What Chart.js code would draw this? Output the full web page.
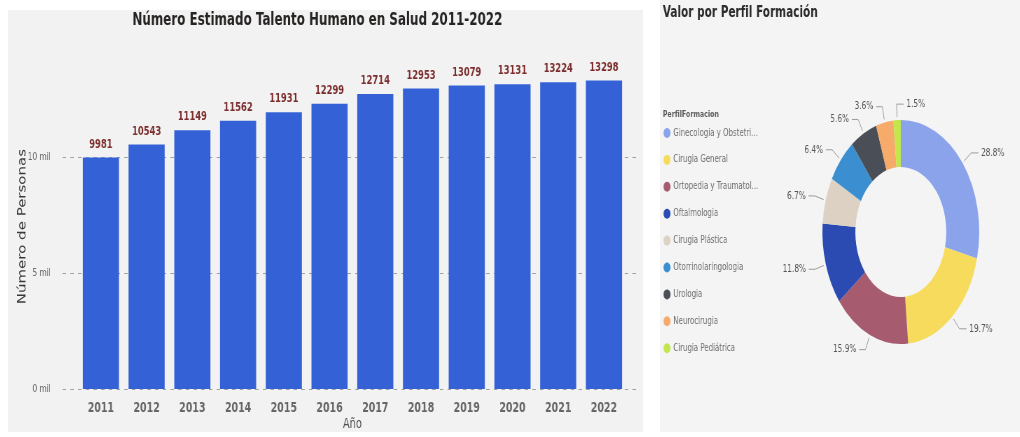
<!DOCTYPE html>
<html lang="es">
<head>
<meta charset="utf-8">
<title>Talento Humano en Salud 2011-2022</title>
<script src="https://cdn.jsdelivr.net/npm/chart.js@4.4.1/dist/chart.umd.min.js"></script>
<style>
  html, body { margin: 0; padding: 0; background: #fff; width: 1020px; height: 437px; overflow: hidden; }
  .panel { position: absolute; background: #f3f2f2; overflow: hidden; }
  #panelBar { left: 8px; top: 10px; width: 635px; height: 422px; }
  #panelDonut { left: 660px; top: 0; width: 360px; height: 432px; background: #f4f4f4; }
  /* both reports are drawn wide and narrowed horizontally */
  .panel canvas { position: absolute; left: 0; top: 0; transform-origin: 0 0; transform: scaleX(0.7); }
</style>
</head>
<body>
<div class="panel" id="panelBar"><canvas id="barChart" width="907" height="422"></canvas></div>
<div class="panel" id="panelDonut"><canvas id="donutChart" width="514" height="432"></canvas></div>
<script>
// Talento humano por año
const years = ['2011', '2012', '2013', '2014', '2015', '2016', '2017', '2018', '2019', '2020', '2021', '2022'];
const personas = [9981, 10543, 11149, 11562, 11931, 12299, 12714, 12953, 13079, 13131, 13224, 13298];
const yTickValues = [0, 5000, 10000];

// Distribución por perfil de formación (%)
const perfiles = ['Ginecologia y Obstetri...', 'Cirugia General', 'Ortopedia y Traumatol...', 'Oftalmologia',
  'Cirugia Plástica', 'Otorrinolaringologia', 'Urologia', 'Neurocirugia', 'Cirugia Pediátrica'];
const porcentajes = [28.8, 19.7, 15.9, 11.8, 6.7, 6.4, 5.6, 3.6, 1.5];
const coloresPerfil = ['#8aa3ea', '#f7db5c', '#a65c6e', '#2b4bb3', '#ddd1c3', '#3b8ecf', '#4a4e57', '#f6ab6b', '#c3e64c'];

const FONT = "'DejaVu Sans', sans-serif";
Chart.defaults.font.family = FONT;

// dashed horizontal guides, a bit wider than the plot area
const dashedGrid = {
  id: 'dashedGrid',
  beforeDatasetsDraw(chart) {
    const { ctx, chartArea, scales: { y } } = chart;
    ctx.save();
    ctx.strokeStyle = '#a0a0a0';
    ctx.lineWidth = 1;
    ctx.setLineDash([5, 6]);
    y.ticks.forEach(t => {
      const py = Math.round(y.getPixelForValue(t.value)) + 0.5;
      ctx.beginPath();
      ctx.moveTo(chartArea.left - 22, py);
      ctx.lineTo(chartArea.right + 19, py);
      ctx.stroke();
    });
    ctx.restore();
  }
};

// value above every bar
const barValues = {
  id: 'barValues',
  afterDatasetsDraw(chart) {
    const { ctx } = chart;
    const data = chart.data.datasets[0].data;
    ctx.save();
    ctx.font = 'bold 12px ' + FONT;
    ctx.fillStyle = '#7b2d2d';
    ctx.textAlign = 'center';
    ctx.textBaseline = 'bottom';
    chart.getDatasetMeta(0).data.forEach((bar, i) => {
      ctx.fillText(String(data[i]), bar.x, bar.y - 7);
    });
    ctx.restore();
  }
};

new Chart(document.getElementById('barChart'), {
  type: 'bar',
  data: {
    labels: years,
    datasets: [{
      data: personas,
      backgroundColor: '#3462d6',
      categoryPercentage: 1,
      barPercentage: 0.79
    }]
  },
  options: {
    responsive: false,
    animation: false,
    layout: { padding: { left: 0, right: 23, top: 0, bottom: 0 } },
    plugins: {
      legend: { display: false },
      tooltip: { enabled: false },
      title: {
        display: true,
        text: 'Número Estimado Talento Humano en Salud 2011-2022',
        color: '#252423',
        font: { size: 17, weight: 'bold' },
        padding: { top: 0, bottom: 33.8 }
      }
    },
    scales: {
      x: {
        grid: { display: false },
        border: { display: false },
        ticks: { color: '#666', font: { size: 13.5, weight: 'bold' }, padding: 3 },
        title: { display: true, text: 'Año', color: '#505050', font: { size: 14 }, padding: { top: 0, bottom: -1 } },
        afterFit(scale) { scale.height = 43; }
      },
      y: {
        min: 0,
        max: 14000,
        grid: { display: false },
        border: { display: false },
        afterBuildTicks(scale) { scale.ticks = yTickValues.map(v => ({ value: v })); },
        ticks: { color: '#6a6a6a', font: { size: 10.5 }, padding: 31, callback: v => (v / 1000) + ' mil' },
        title: { display: true, text: 'Número de Personas', color: '#3a3a3a', font: { size: 15 }, padding: { top: 12, bottom: 0 } },
        afterFit(scale) { scale.width = 100; }
      }
    }
  },
  plugins: [dashedGrid, barValues]
});

// header and legend of the donut report
const donutLegend = {
  id: 'donutLegend',
  afterDraw(chart) {
    const { ctx } = chart;
    const ds = chart.data.datasets[0];
    ctx.save();
    ctx.textAlign = 'left';
    ctx.textBaseline = 'middle';
    ctx.font = 'bold 15px ' + FONT;
    ctx.fillStyle = '#2b2b2b';
    ctx.fillText('Valor por Perfil Formación', 4, 13);
    ctx.font = 'bold 9px ' + FONT;
    ctx.fillStyle = '#5a5a5a';
    ctx.fillText('PerfilFormacion', 4, 115);
    ctx.font = '10px ' + FONT;
    chart.data.labels.forEach((label, i) => {
      const y = 133 + i * 26.9;
      ctx.fillStyle = ds.backgroundColor[i];
      ctx.beginPath();
      ctx.arc(10, y, 5, 0, Math.PI * 2);
      ctx.fill();
      ctx.fillStyle = '#6e6e6e';
      ctx.fillText(label, 19, y);
    });
    ctx.restore();
  }
};

// percentage outside each slice with a leader line
const sliceLabels = {
  id: 'sliceLabels',
  afterDatasetsDraw(chart) {
    const { ctx } = chart;
    const data = chart.data.datasets[0].data;
    ctx.save();
    ctx.font = '10.5px ' + FONT;
    ctx.textBaseline = 'middle';
    ctx.strokeStyle = '#9a9a9a';
    ctx.lineWidth = 1;
    chart.getDatasetMeta(0).data.forEach((arc, i) => {
      const mid = (arc.startAngle + arc.endAngle) / 2;
      const cos = Math.cos(mid), sin = Math.sin(mid);
      const r = arc.outerRadius;
      const x0 = arc.x + cos * (r + 3), y0 = arc.y + sin * (r + 3);
      const x1 = arc.x + cos * (r + 16), y1 = arc.y + sin * (r + 16);
      const right = cos > -0.1;
      const x2 = x1 + (right ? 10 : -9);
      ctx.beginPath();
      ctx.moveTo(x0, y0);
      ctx.lineTo(x1, y1);
      ctx.lineTo(x2, y1);
      ctx.stroke();
      ctx.fillStyle = '#555';
      ctx.textAlign = right ? 'left' : 'right';
      ctx.fillText(data[i].toFixed(1) + '%', x2 + (right ? 4 : -4), y1);
    });
    ctx.restore();
  }
};

new Chart(document.getElementById('donutChart'), {
  type: 'doughnut',
  data: {
    labels: perfiles,
    datasets: [{
      data: porcentajes,
      backgroundColor: coloresPerfil,
      borderWidth: 0
    }]
  },
  options: {
    responsive: false,
    animation: false,
    cutout: '58%',
    layout: { padding: { left: 232, right: 58, top: 120, bottom: 88 } },
    plugins: {
      legend: { display: false },
      tooltip: { enabled: false }
    }
  },
  plugins: [sliceLabels, donutLegend]
});
</script>
</body>
</html>
